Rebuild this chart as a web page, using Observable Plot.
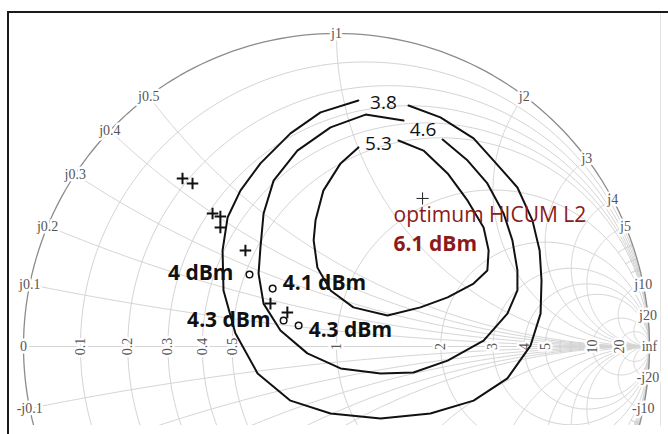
<!DOCTYPE html>
<html><head><meta charset="utf-8">
<script src="https://cdn.jsdelivr.net/npm/d3@7"></script>
<script src="https://cdn.jsdelivr.net/npm/@observablehq/plot@0.6"></script>
<style>
body{margin:0;background:#fff;}
#wrap{position:relative;width:668px;height:434px;overflow:hidden;background:#fff;}
#border{position:absolute;left:7px;top:11px;right:-4px;bottom:-4px;border-left:2px solid #1a1a1a;border-top:2px solid #1a1a1a;pointer-events:none;}
</style></head><body><div id="wrap"><div id="border"></div></div>
<script>
// ---- Smith chart grid values ----
const rGrid = [0.1, 0.2, 0.3, 0.4, 0.5, 1, 2, 3, 4, 5, 10, 20];
const xGrid = [0.1, 0.2, 0.3, 0.4, 0.5, 1, 2, 3, 4, 5, 10, 20];
const rMinor = [6, 7, 8, 9];
const xMinor = [6, 7, 8, 9];
const rTicks = [0.1, 0.2, 0.3, 0.4, 0.5, 1, 2, 3, 4, 5, 10, 20];
const rTickLabels = ["0.1", "0.2", "0.3", "0.4", "0.5", "1", "2", "3", "4", "5", "10", "20"];
const xTicks = [0.1, 0.2, 0.3, 0.4, 0.5, 1, 2, 3, 4, 5, 10, 20, -0.1, -10, -20];
const xTickLabels = ["j0.1", "j0.2", "j0.3", "j0.4", "j0.5", "j1", "j2", "j3", "j4", "j5", "j10", "j20", "-j0.1", "-j10", "-j20"];
const endTicks = [0, 1e9];
const endTickLabels = ["0", "inf"];

// ---- Output power contours (reflection coefficient, Re / Im) ----
const contourLevels = ["3.8", "4.6", "5.3"];
const c38Re = [0.230, 0.332, 0.438, 0.502, 0.578, 0.626, 0.649, 0.655, 0.652, 0.620, 0.546, 0.438, 0.300, 0.141, -0.019, -0.147, -0.252, -0.323, -0.361, -0.364, -0.348, -0.307, -0.243, -0.147, -0.051, 0.070];
const c38Im = [0.770, 0.732, 0.665, 0.594, 0.508, 0.403, 0.307, 0.211, 0.105, 0.003, -0.102, -0.173, -0.214, -0.230, -0.214, -0.173, -0.086, 0.042, 0.179, 0.307, 0.412, 0.498, 0.585, 0.681, 0.748, 0.786];
const c46Re = [0.339, 0.419, 0.482, 0.534, 0.562, 0.578, 0.578, 0.546, 0.470, 0.355, 0.246, 0.141, 0.013, -0.093, -0.179, -0.233, -0.249, -0.243, -0.233, -0.201, -0.125, -0.019, 0.093, 0.214];
const c46Im = [0.661, 0.594, 0.521, 0.425, 0.339, 0.243, 0.179, 0.105, 0.019, -0.045, -0.083, -0.086, -0.070, -0.022, 0.051, 0.137, 0.233, 0.316, 0.425, 0.530, 0.626, 0.700, 0.741, 0.722];
const c53Re = [0.198, 0.278, 0.355, 0.419, 0.470, 0.486, 0.482, 0.438, 0.355, 0.268, 0.163, 0.054, -0.019, -0.061, -0.073, -0.067, -0.042, 0.013, 0.070];
const c53Im = [0.658, 0.626, 0.553, 0.466, 0.380, 0.307, 0.243, 0.201, 0.157, 0.125, 0.099, 0.125, 0.179, 0.252, 0.339, 0.403, 0.498, 0.585, 0.636];

// ---- Load-pull points ----
const plusRe = [-0.492, -0.460, -0.396, -0.371, -0.371, -0.291, -0.211, -0.157];
const plusIm = [0.537, 0.521, 0.425, 0.415, 0.380, 0.307, 0.137, 0.109];
const sampleRe = [-0.278, -0.204, -0.169, -0.121];
const sampleIm = [0.230, 0.185, 0.083, 0.067];
const sampleLabels = ["4 dBm", "4.1 dBm", "4.3 dBm", "4.3 dBm"];
const optimumRe = [0.275];
const optimumIm = [0.473];
const optimumLabels = ["optimum HICUM L2", "6.1 dBm"];

// ---- build geometry ----
const toGamma = (r, x) => { const d = (r + 1) ** 2 + x * x; return [(r * r + x * x - 1) / d, 2 * x / d]; };
const N = 240;
const grid = []; let gid = 0;
function pushArc(cx, cy, rad, a0, a1, flip, target) {
  const id = gid++;
  for (let k = 0; k <= N; k++) {
    const a = a0 + (a1 - a0) * k / N;
    target.push({id, re: cx + rad * Math.cos(a), im: (flip ? -1 : 1) * (cy + rad * Math.sin(a))});
  }
}
function rCircle(r, xLim, target) {
  const c = r / (r + 1), rad = 1 / (r + 1);
  let p0 = 0;
  if (isFinite(xLim)) { const g = toGamma(r, xLim); p0 = Math.atan2(g[1], g[0] - c); }
  pushArc(c, 0, rad, p0, 2 * Math.PI - p0, false, target);
}
function xArc(x, rLim, target) {
  const ax = Math.abs(x), cy = 1 / ax, rad = 1 / ax;
  const norm = a => a < 0 ? a + 2 * Math.PI : a;
  const g0 = toGamma(0, ax);
  const a0 = norm(Math.atan2(g0[1] - cy, g0[0] - 1));
  let a1 = 1.5 * Math.PI;
  if (isFinite(rLim)) { const g1 = toGamma(rLim, ax); a1 = norm(Math.atan2(g1[1] - cy, g1[0] - 1)); }
  pushArc(1, cy, rad, a0, a1, x < 0, target);
}
rGrid.forEach(r => rCircle(r, Infinity, grid));
xGrid.forEach(x => { xArc(x, Infinity, grid); xArc(-x, Infinity, grid); });
rMinor.forEach(r => rCircle(r, 0.5, grid));
xMinor.forEach(x => { xArc(x, 1, grid); xArc(-x, 1, grid); });
{ const id = gid++; const a = toGamma(0, 0), b = toGamma(1e9, 0);
  grid.push({id, re: a[0], im: a[1]}, {id, re: b[0], im: b[1]}); }
const outer = []; rCircle(0, Infinity, outer);

const rLab = rTicks.map((r, i) => { const g = toGamma(r, 0); return {re: g[0], im: g[1], t: rTickLabels[i]}; });
const xLab = xTicks.map((x, i) => { const g = toGamma(0, x); return {re: g[0], im: g[1], t: xTickLabels[i]}; });
const eLab = endTicks.map((r, i) => { const g = toGamma(r, 0); return {re: g[0], im: g[1], t: endTickLabels[i]}; });

const contours = [[c38Re, c38Im], [c46Re, c46Im], [c53Re, c53Im]].map(([re, im], k) => re.map((v, i) => ({re: v, im: im[i], k})));
const cLab = contours.map((c, k) => ({re: (c[0].re + c[c.length - 1].re) / 2, im: (c[0].im + c[c.length - 1].im) / 2, t: contourLevels[k]}));
const plusPts = plusRe.map((v, i) => ({re: v, im: plusIm[i]}));
const samples = sampleRe.map((v, i) => ({re: v, im: sampleIm[i], t: sampleLabels[i]}));
const opt = optimumRe.map((v, i) => ({re: v, im: optimumIm[i]}));

const labOff = [{dx: -16, dy: -1.5, a: "end"}, {dx: 10, dy: -5, a: "start"}, {dx: -13, dy: -0.5, a: "end"}, {dx: 10, dy: 4.5, a: "start"}];
const serif = "Liberation Serif, Times New Roman, serif";
const halo = {stroke: "white", strokeWidth: 5, paintOrder: "stroke"};

const plot = Plot.plot({
  width: 668, height: 434,
  marginLeft: 8, marginTop: 12, marginRight: 8, marginBottom: 9,
  x: {domain: [-1, 1], range: [23, 649], axis: null},
  y: {domain: [-1, 1], range: [659, 33], axis: null},
  style: {fontFamily: "Open Sans", background: "transparent"},
  marks: [
    Plot.frame({anchor: "right", stroke: "#e4e4e4"}),
    Plot.line(grid, {x: "re", y: "im", z: "id", stroke: "#d4d4d4", strokeWidth: 1, clip: "frame"}),
    Plot.line(outer, {x: "re", y: "im", stroke: "#8c8c8c", strokeWidth: 1.3, clip: "frame"}),
    Plot.text(rLab, {x: "re", y: "im", text: "t", rotate: -90, fontFamily: serif, fontSize: 14, fill: "#555", ...halo}),
    Plot.text(xLab, {x: "re", y: "im", text: "t", fontFamily: serif, fontSize: 14, fill: "#555", ...halo}),
    Plot.text(eLab, {x: "re", y: "im", text: "t", fontFamily: serif, fontSize: 14, fill: "#555", ...halo}),
    ...contours.map(c => Plot.line(c, {x: "re", y: "im", stroke: "#111", strokeWidth: 2, clip: "frame"})),
    Plot.text(cLab, {x: "re", y: "im", text: "t", fontSize: 19, fill: "#111"}),
    Plot.dot(plusPts, {x: "re", y: "im", symbol: "plus", r: 3.8, stroke: "#111", strokeWidth: 2}),
    Plot.dot(samples, {x: "re", y: "im", r: 3.3, stroke: "#111", strokeWidth: 1.5, fill: "none"}),
    ...labOff.map((o, i) => Plot.text([samples[i]], {x: "re", y: "im", text: "t", dx: o.dx, dy: o.dy, textAnchor: o.a, fontSize: 21, fontWeight: "bold", fill: "#111"})),
    Plot.dot(opt, {x: "re", y: "im", symbol: "plus", r: 4, stroke: "#222", strokeWidth: 1}),
    Plot.text(opt, {x: "re", y: "im", text: () => optimumLabels[0], dx: -29, dy: 16.5, textAnchor: "start", fontSize: 21, fill: "#8b1a1a"}),
    Plot.text(opt, {x: "re", y: "im", text: () => optimumLabels[1], dx: -29, dy: 45.5, textAnchor: "start", fontSize: 21, fontWeight: "bold", fill: "#8b1a1a"})
  ]
});
document.getElementById("wrap").prepend(plot);
</script>
</body></html>
